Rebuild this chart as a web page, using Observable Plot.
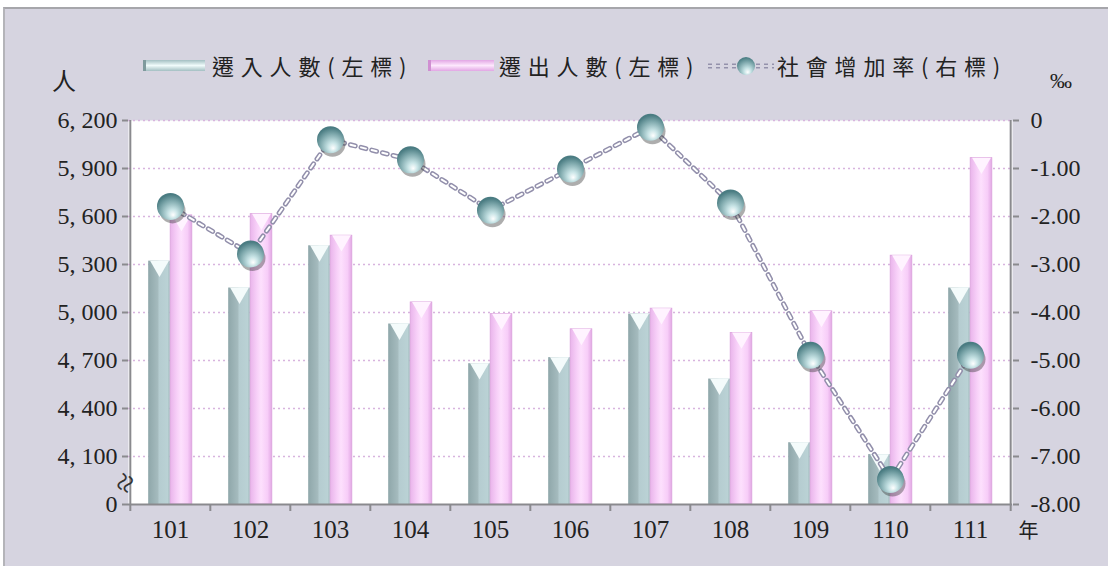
<!DOCTYPE html>
<html><head><meta charset="utf-8">
<script src="https://cdn.jsdelivr.net/npm/d3@7"></script>
<script src="https://cdn.jsdelivr.net/npm/@observablehq/plot@0.6"></script>
<style>
body{margin:0;width:1108px;height:571px;background:#fff;overflow:hidden;position:relative;}
#frame{position:absolute;left:3px;top:7px;width:1105px;height:559px;background:#d6d4e0;border-top:2px solid #a6a6ab;border-left:2px solid #b4b4b9;box-sizing:border-box;}
#chart,#overlay{position:absolute;left:0;top:0;}
.leg{position:absolute;top:49px;font-family:"Noto Sans CJK TC","Noto Sans CJK SC",sans-serif;font-size:22px;color:#222;letter-spacing:6.8px;white-space:nowrap;}
.sw{position:absolute;height:11px;top:60px;}
.unit{position:absolute;font-family:"Noto Sans CJK TC",sans-serif;color:#222;}
</style></head>
<body>
<div id="frame"></div>
<div id="chart"></div>
<div id="overlay"></div>
<div class="sw" style="left:143px;width:62px;background:linear-gradient(to bottom,#a3bfc2,#f0fbfb 50%,#a3bfc2);border-left:3px solid #7f9a9d;box-sizing:border-box"></div>
<div class="leg" style="left:212px">遷入人數(左標)</div>
<div class="sw" style="left:428px;width:66px;background:linear-gradient(to bottom,#e2a6e4,#fde8fd 50%,#e2a6e4);border-left:3px solid #d08fd2;box-sizing:border-box"></div>
<div class="leg" style="left:499px">遷出人數(左標)</div>
<svg style="position:absolute;left:706px;top:52px" width="70" height="30">
<defs><radialGradient id="lgSphere" cx="0.55" cy="0.7" r="0.65" fx="0.6" fy="0.85"><stop offset="0" stop-color="#ffffff"/><stop offset="0.3" stop-color="#c4e2e4"/><stop offset="1" stop-color="#4d8086"/></radialGradient></defs>
<line x1="2" y1="14" x2="68" y2="14" stroke="#9491ab" stroke-width="5" stroke-dasharray="4,4"/>
<line x1="2" y1="14" x2="68" y2="14" stroke="#d6d4e0" stroke-width="1.8" stroke-dasharray="4,4"/>
<circle cx="40" cy="14" r="9" fill="url(#lgSphere)"/>
</svg>
<div class="leg" style="left:777px">社會增加率(右標)</div>
<div class="unit" style="left:52px;top:62px;font-size:24px">人</div>
<div class="unit" style="left:1050px;top:68px;font-size:22px;font-family:'Liberation Serif',serif">‰</div>
<script>
const years = ["101","102","103","104","105","106","107","108","109","110","111"];
const moveIn = [5321,5153,5417,4928,4680,4718,4990,4584,4186,4112,5153];
const moveOut = [5607,5615,5480,5063,4990,4895,5024,4872,5007,5355,5965];
const rate = [-1.79,-2.78,-0.40,-0.82,-1.87,-1.01,-0.14,-1.72,-4.89,-7.48,-4.89];
const leftTicks = [3800,4100,4400,4700,5000,5300,5600,5900,6200];
const rightTicks = [-8,-7,-6,-5,-4,-3,-2,-1,0];
const yearUnit = "年";

const data = years.map((y,i)=>({year:y, in:moveIn[i], out:moveOut[i], rate:rate[i]}));

const W=1108,H=571,ML=128,MR=96,MT=120,MB=67;
const bw=(W-ML-MR)/years.length;
const half=22;
const fontNum="'Liberation Serif','DejaVu Serif',serif";
const leftFmt=d=>d===3800?"0":d3.format(",")(d).replace(",",", ");
const rightFmt=d=>d===0?"0":d.toFixed(2);

const common={width:W,height:H,marginLeft:ML,marginRight:MR,marginTop:MT,marginBottom:MB,
  x:{type:"band",domain:years,padding:0,axis:null},
  style:{background:"transparent",fontFamily:fontNum,fontSize:"24px",color:"#222",overflow:"visible"}};

const axisColor="#8a8a8e";
const chart=Plot.plot({...common,
  y:{domain:[3800,6200],axis:null},
  marks:[
    Plot.frame({fill:"white",stroke:null}),
    Plot.gridY(leftTicks.slice(1),{stroke:"#d8b4de",strokeOpacity:1,strokeWidth:1.5,strokeDasharray:"2,3"}),
    Plot.barY(data,{x:"year",y1:3800,y2:"in",insetLeft:bw/2-half,insetRight:bw/2,fill:"url(#gIn)"}),
    Plot.barY(data,{x:"year",y1:3800,y2:"out",insetLeft:bw/2,insetRight:bw/2-half,fill:"url(#gOut)",stroke:"#dba3dd",strokeWidth:0.8}),
    Plot.dot(data,{x:"year",y:"in",symbol:"triangle",r:7,rotate:180,dx:-half/2,dy:5,fill:"#f4fbfb"}),
    Plot.dot(data,{x:"year",y:"out",symbol:"triangle",r:7,rotate:180,dx:half/2,dy:5,fill:"#fff3ff"}),
    Plot.ruleY([3800],{stroke:axisColor,strokeWidth:2}),
    Plot.ruleX([years[0]],{dx:-bw/2,stroke:axisColor,strokeWidth:2}),
    Plot.ruleX(years,{dx:-bw/2,y1:3800,y2:3800,insetBottom:-7,stroke:axisColor,strokeWidth:2}),
    Plot.ruleX([years[years.length-1]],{dx:bw/2,y1:3800,y2:3800,insetBottom:-7,stroke:axisColor,strokeWidth:2}),
    Plot.axisY(leftTicks,{anchor:"left",label:null,tickSize:6,tickPadding:5,tickFormat:leftFmt,stroke:axisColor,strokeWidth:2,fontSize:24,fill:"#222"}),
    Plot.axisX({anchor:"bottom",label:null,tickSize:0,tickPadding:16,fontSize:25,fill:"#222"}),
    Plot.text([yearUnit],{frameAnchor:"bottom-right",dx:26,dy:33,fontSize:20,fill:"#222",fontFamily:"'Noto Sans CJK TC',sans-serif"}),
    Plot.text(["≈"],{frameAnchor:"bottom-left",textAnchor:"middle",dx:7,dy:-17,rotate:-65,fontSize:34,fill:"#333"})
  ]});

const overlay=Plot.plot({...common,
  y:{domain:[-8,0],axis:null},
  marks:[
    Plot.ruleX([years[years.length-1]],{dx:bw/2,stroke:axisColor,strokeWidth:2}),
    Plot.axisY(rightTicks,{anchor:"right",label:null,tickSize:6,tickPadding:12,tickFormat:rightFmt,stroke:axisColor,strokeWidth:2,fontSize:24,fill:"#222"}),
    Plot.line(data,{x:"year",y:"rate",stroke:"#666",strokeOpacity:0.2,strokeWidth:10,dy:4,ariaLabel:"lineshadow"}),
    Plot.line(data,{x:"year",y:"rate",stroke:"#928fab",strokeWidth:5,strokeDasharray:"5,6"}),
    Plot.line(data,{x:"year",y:"rate",stroke:"#ffffff",strokeWidth:2,strokeDasharray:"5,6"}),
    Plot.dot(data,{x:"year",y:"rate",r:13,fill:"#333",fillOpacity:0.4,dx:2,dy:4,ariaLabel:"dotshadow"}),
    Plot.dot(data,{x:"year",y:"rate",r:13.5,fill:"url(#sphere)"})
  ]});

document.getElementById("chart").append(chart);
document.getElementById("overlay").append(overlay);

const ns="http://www.w3.org/2000/svg";
function addDefs(svg,html){const d=document.createElementNS(ns,"defs");d.innerHTML=html;svg.insertBefore(d,svg.firstChild);}
addDefs(chart,`
<linearGradient id="gIn" x1="0" x2="1" y1="0" y2="0">
 <stop offset="0" stop-color="#8fa7aa"/><stop offset="0.45" stop-color="#a5bbbe"/><stop offset="0.5" stop-color="#b5ccd0"/><stop offset="0.9" stop-color="#bad2d5"/><stop offset="1" stop-color="#9fb8bb"/>
</linearGradient>
<linearGradient id="gOut" x1="0" x2="1" y1="0" y2="0">
 <stop offset="0" stop-color="#e9b4eb"/><stop offset="0.3" stop-color="#f7cff8"/><stop offset="0.5" stop-color="#fde0fd"/><stop offset="0.8" stop-color="#f7cdf8"/><stop offset="1" stop-color="#e2a8e4"/>
</linearGradient>`);
addDefs(overlay,`
<radialGradient id="sphere" cx="0.55" cy="0.68" r="0.62" fx="0.6" fy="0.82">
 <stop offset="0" stop-color="#ffffff"/><stop offset="0.28" stop-color="#c8e4e6"/><stop offset="0.7" stop-color="#7fa9ad"/><stop offset="1" stop-color="#4a7c82"/>
</radialGradient>
<filter id="blur" x="-20%" y="-20%" width="140%" height="140%"><feGaussianBlur stdDeviation="3"/></filter>`);
overlay.querySelectorAll('g[aria-label="lineshadow"],g[aria-label="dotshadow"]').forEach(g=>g.setAttribute("filter","url(#blur)"));
</script>
</body></html>
